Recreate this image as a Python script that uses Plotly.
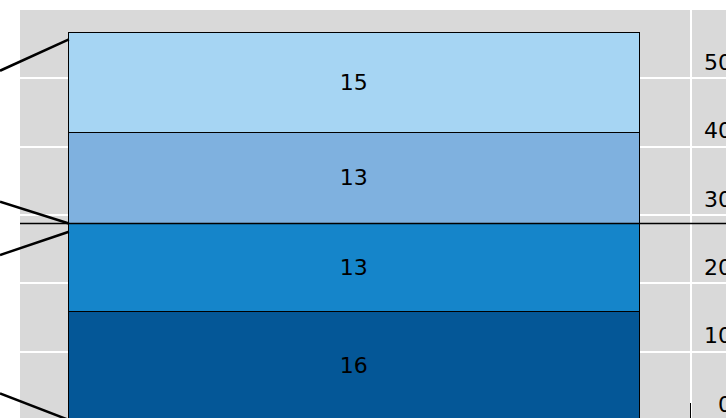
import plotly.graph_objects as go

# ---- data ----
segment_names = ["D", "C", "B", "A"]          # bottom -> top
segment_values = [15.8, 12.95, 13.25, 14.55]
segment_colors = ["#045797", "#1585CA", "#7FB1DF", "#A6D5F3"]
bar_x = 1
bar_width = 0.85

tick_values = [0, 10, 20, 30, 40, 50]
tick_labels = ["0", "10", "20", "30", "40", "50"]

# connector lines: (y at left edge, y at bar edge)
connector_left_y = [51.1, 31.94, 24.14, 3.9]
connector_bar_y = [55.7, 28.75, 27.55, 0.0]

x_range = [0.47247, 1.55283]
y_range = [0.293, 61.45]
panel_left = 0.50223
panel_top = 60
divider_y = segment_values[0] + segment_values[1]
label_offset = 2.3   # tick labels sit a little above their gridline

fig = go.Figure()

for name, val, col in zip(segment_names, segment_values, segment_colors):
    fig.add_trace(go.Bar(
        x=[bar_x], y=[val], width=bar_width, name=name,
        marker=dict(color=col, line=dict(color="black", width=1.4)),
        text=[val], texttemplate="%{y:.0f}", textposition="inside",
        insidetextanchor="middle",
        textfont=dict(family="DejaVu Sans", size=22, color="black"),
        showlegend=False, hoverinfo="skip",
    ))

bar_left = bar_x - bar_width / 2
for ly, by in zip(connector_left_y, connector_bar_y):
    fig.add_trace(go.Scatter(
        x=[x_range[0], bar_left], y=[ly, by], mode="lines",
        line=dict(color="black", width=2.5), showlegend=False, hoverinfo="skip",
    ))

shapes = [
    dict(type="rect", xref="x", yref="y", x0=panel_left, x1=x_range[1] + 0.1,
         y0=-5, y1=panel_top, fillcolor="#D9D9D9", line=dict(width=0), layer="below"),
    dict(type="line", xref="x", yref="y", x0=panel_left, x1=x_range[1] + 0.1,
         y0=divider_y, y1=divider_y, line=dict(color="black", width=1.3), layer="above"),
]

annotations = []
for v, t in zip(tick_values, tick_labels):
    annotations.append(dict(
        x=1.5, y=v + label_offset, xref="x", yref="y", text=t, showarrow=False,
        xanchor="right", yanchor="middle", xshift=43,
        font=dict(family="DejaVu Sans", size=22, color="black"),
    ))

fig.update_layout(
    width=726, height=418,
    margin=dict(l=0, r=0, t=0, b=0),
    paper_bgcolor="white", plot_bgcolor="white",
    barmode="stack", bargap=0,
    shapes=shapes, annotations=annotations,
    xaxis=dict(range=x_range, tickvals=[1.5], ticktext=[""], showgrid=True,
               gridcolor="white", gridwidth=2, zeroline=False,
               ticks="inside", ticklen=15, tickcolor="black", tickwidth=1.3,
               showline=False, fixedrange=True),
    yaxis=dict(range=y_range, tickvals=tick_values, showticklabels=False,
               showgrid=True, gridcolor="white", gridwidth=1.5, zeroline=False,
               ticks="", showline=False, fixedrange=True),
)

fig.write_html(
    "out.html",
    config={"displayModeBar": False},
    post_script="document.body.style.margin='0';document.body.style.overflow='hidden';",
)
